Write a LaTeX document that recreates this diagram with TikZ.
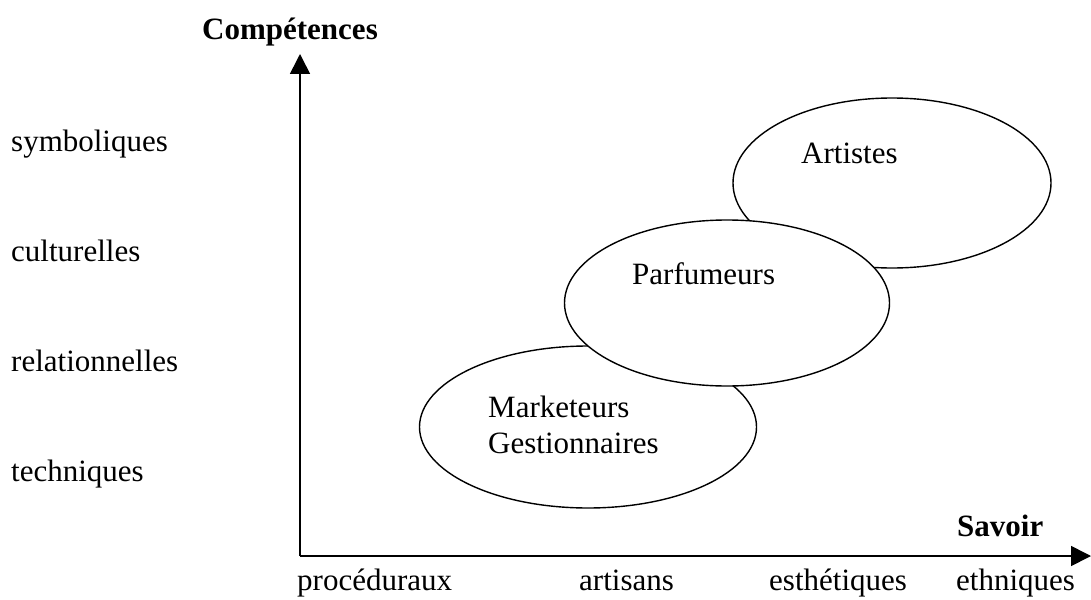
\documentclass[tikz,border=0pt]{standalone}
\usepackage{fontspec}
\setmainfont{Liberation Serif}
\usetikzlibrary{arrows.meta, shapes.geometric, positioning}

\begin{document}
\begin{tikzpicture}[x=1pt, y=-1pt, font=\fontsize{31}{36}\selectfont]
\tikzstyle{groupe}=[ellipse, draw, fill=white, line width=1.4pt, inner sep=0pt]
\tikzstyle{etiq}=[anchor=base west, inner sep=0pt]
\tikzstyle{axe}=[line width=1.6pt, -{Triangle[length=20pt, width=20pt]}]
\useasboundingbox (0,0) rectangle (1091,599);

% axes
\coordinate (origine) at (300,556);
\coordinate (haut) at (300,54);
\coordinate (droite) at (1091,556);
\draw[axe] (origine) -- (haut);
\draw[axe] (origine) -- (droite);

\node[etiq, font=\fontsize{31}{36}\selectfont\bfseries] (competences) at (202,40) {Compétences};
\node[etiq, font=\fontsize{31}{36}\selectfont\bfseries] (savoir) at (957,536) {Savoir};

% competences
\node[etiq] (symb) at (11,151) {symboliques};
\node[etiq] (cult) at (11,261) {culturelles};
\node[etiq] (rel) at (11,371) {relationnelles};
\node[etiq] (tech) at (11,481) {techniques};

% savoirs
\node[etiq] (proc) at (297,590) {procéduraux};
\node[etiq] (arti) at (579,590) {artisans};
\node[etiq] (esth) at (769,590) {esthétiques};
\node[etiq] (ethn) at (956,590) {ethniques};

% groupes
\node[groupe, minimum width=318pt, minimum height=170pt] (artistes) at (892,183) {};
\node[groupe, minimum width=337pt, minimum height=162pt] (marketeurs) at (588,427) {};
\node[groupe, minimum width=325pt, minimum height=166pt] (parfumeurs) at (727,303) {};

\node[etiq] (t-artistes) at (801,163) {Artistes};
\node[etiq] (t-parfumeurs) at (632,284) {Parfumeurs};
\node[anchor=north west, inner sep=0pt, align=left] (t-marketeurs) at (488,396) {Marketeurs\\Gestionnaires};
\end{tikzpicture}
\end{document}
